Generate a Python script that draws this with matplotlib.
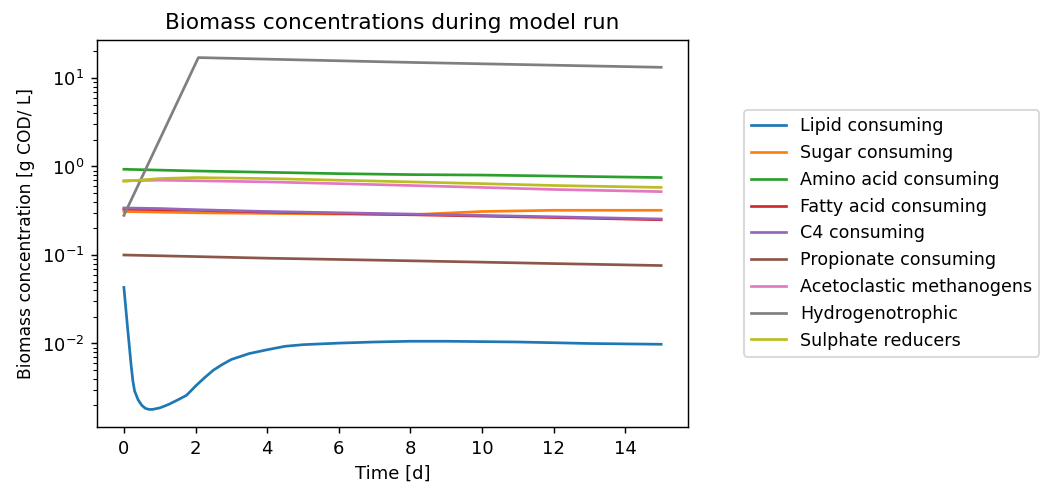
import numpy as np
import matplotlib.pyplot as plt

# time points (days)
t_lipid = [0, 0.05, 0.1, 0.15, 0.2, 0.25, 0.3, 0.4, 0.5, 0.6, 0.7, 0.8, 1.0, 1.25, 1.5,
           1.75, 2.0, 2.25, 2.5, 2.75, 3.0, 3.5, 4, 4.5, 5, 6, 7, 8, 9, 10, 11, 12, 13, 14, 15]
t = [0, 1, 2, 4, 6, 8, 10, 12, 15]
t_hydro = [0, 2.08, 8, 15]

lipid = [0.043, 0.026, 0.0155, 0.0095, 0.0058, 0.0038, 0.0029, 0.0023, 0.0020, 0.00185,
         0.0018, 0.0018, 0.00187, 0.00205, 0.0023, 0.0026, 0.0033, 0.0041, 0.0050, 0.0058,
         0.0066, 0.0077, 0.0085, 0.0093, 0.0097, 0.0101, 0.0104, 0.0106, 0.0106, 0.0105,
         0.0104, 0.0102, 0.0100, 0.0099, 0.0098]
sugar = [0.31, 0.305, 0.30, 0.295, 0.29, 0.285, 0.31, 0.32, 0.32]
amino = [0.93, 0.91, 0.89, 0.86, 0.83, 0.81, 0.80, 0.78, 0.75]
fatty = [0.33, 0.325, 0.32, 0.305, 0.295, 0.285, 0.275, 0.265, 0.25]
c4 = [0.34, 0.335, 0.325, 0.31, 0.30, 0.29, 0.28, 0.27, 0.255]
propionate = [0.10, 0.098, 0.096, 0.092, 0.089, 0.086, 0.083, 0.080, 0.076]
acetoclastic = [0.69, 0.70, 0.69, 0.67, 0.64, 0.61, 0.58, 0.55, 0.52]
hydro = [0.28, 17.0, 15.0, 13.2]
sulphate = [0.68, 0.73, 0.75, 0.73, 0.70, 0.67, 0.64, 0.61, 0.58]

labels = ["Lipid consuming", "Sugar consuming", "Amino acid consuming", "Fatty acid consuming",
          "C4 consuming", "Propionate consuming", "Acetoclastic methanogens",
          "Hydrogenotrophic", "Sulphate reducers"]

fig = plt.figure(figsize=(1041 / 130, 486 / 130), dpi=130)
ax = fig.add_axes([0.0932, 0.1214, 0.5677, 0.7963])

ax.plot(t_lipid, lipid, label=labels[0])
ax.plot(t, sugar, label=labels[1])
ax.plot(t, amino, label=labels[2])
ax.plot(t, fatty, label=labels[3])
ax.plot(t, c4, label=labels[4])
ax.plot(t, propionate, label=labels[5])
ax.plot(t, acetoclastic, label=labels[6])
ax.plot(t_hydro, hydro, label=labels[7])
ax.plot(t, sulphate, label=labels[8])

ax.set_yscale("log")
ax.set_title("Biomass concentrations during model run")
ax.set_xlabel("Time [d]")
ax.set_ylabel("Biomass concentration [g COD/ L]", fontsize=9.5)
ax.legend(loc="center left", bbox_to_anchor=(1.08, 0.5), fontsize=9.7)

plt.savefig("out.png", dpi=130)
plt.close()
